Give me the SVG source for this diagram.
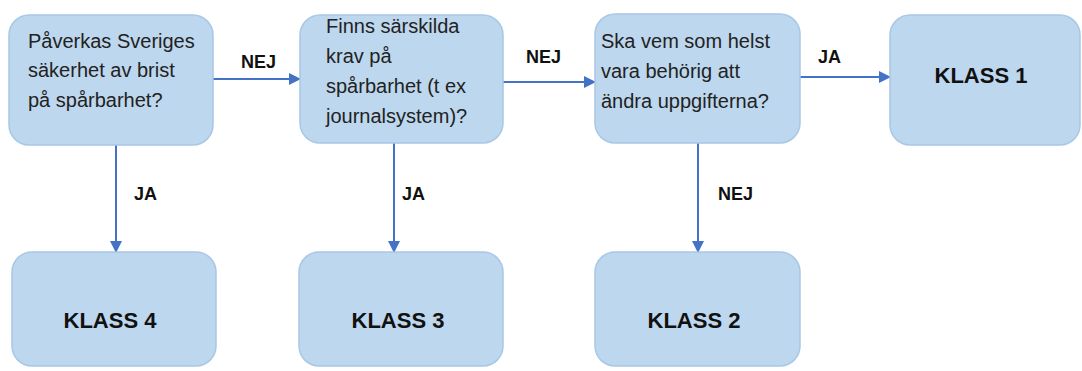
<svg xmlns="http://www.w3.org/2000/svg" width="1082" height="371" viewBox="0 0 1082 371">
<style>
.box{fill:#BDD7EE;stroke:#A8C8E6;stroke-width:1.5}
.q{font-family:"Liberation Sans",Arial,sans-serif;font-size:20px;fill:#222}
.k{font-family:"Liberation Sans",Arial,sans-serif;font-size:22px;font-weight:bold;fill:#111}
.lbl{font-family:"Liberation Sans",Arial,sans-serif;font-size:18px;font-weight:bold;fill:#111}
.c{stroke:#4472C4;stroke-width:2;fill:none;marker-end:url(#ah)}
</style>
<defs>
<marker id="ah" markerWidth="12" markerHeight="12" refX="11" refY="6" orient="auto" markerUnits="userSpaceOnUse">
<path d="M0,0 L12,6 L0,12 Z" fill="#4472C4"/>
</marker>
</defs>
<rect width="1082" height="371" fill="#fff"/>
<g id="connectors">
<line class="c" x1="213" y1="79" x2="300" y2="79"/>
<line class="c" x1="503" y1="82" x2="595" y2="82"/>
<line class="c" x1="800" y1="77" x2="890" y2="77"/>
<line class="c" x1="116" y1="145" x2="116" y2="252"/>
<line class="c" x1="394" y1="143" x2="394" y2="252"/>
<line class="c" x1="698" y1="143" x2="698" y2="252"/>
<text class="lbl" x="241" y="68">NEJ</text>
<text class="lbl" x="526" y="63">NEJ</text>
<text class="lbl" x="818" y="63">JA</text>
<text class="lbl" x="134" y="200">JA</text>
<text class="lbl" x="402" y="200">JA</text>
<text class="lbl" x="718" y="200">NEJ</text>
</g>
<g id="q1">
<rect class="box" x="9" y="15" width="204" height="130" rx="20"/>
<text class="q" x="28" y="48">Påverkas Sveriges</text>
<text class="q" x="28" y="77">säkerhet av brist</text>
<text class="q" x="28" y="107">på spårbarhet?</text>
</g>
<g id="q2">
<rect class="box" x="300" y="15" width="203" height="128" rx="20"/>
<text class="q" x="326" y="33">Finns särskilda</text>
<text class="q" x="326" y="63">krav på</text>
<text class="q" x="326" y="93">spårbarhet (t ex</text>
<text class="q" x="326" y="123">journalsystem)?</text>
</g>
<g id="q3">
<rect class="box" x="595" y="14" width="205" height="129" rx="20"/>
<text class="q" x="601" y="48">Ska vem som helst</text>
<text class="q" x="601" y="78">vara behörig att</text>
<text class="q" x="601" y="108">ändra uppgifterna?</text>
</g>
<g id="klass1">
<rect class="box" x="890" y="15" width="190" height="130" rx="20"/>
<text class="k" x="981" y="83" text-anchor="middle">KLASS 1</text>
</g>
<g id="klass4">
<rect class="box" x="12" y="252" width="204" height="114" rx="20"/>
<text class="k" x="110" y="328" text-anchor="middle">KLASS 4</text>
</g>
<g id="klass3">
<rect class="box" x="299" y="252" width="204" height="114" rx="20"/>
<text class="k" x="398" y="328" text-anchor="middle">KLASS 3</text>
</g>
<g id="klass2">
<rect class="box" x="595" y="252" width="205" height="114" rx="20"/>
<text class="k" x="694" y="328" text-anchor="middle">KLASS 2</text>
</g>
</svg>
